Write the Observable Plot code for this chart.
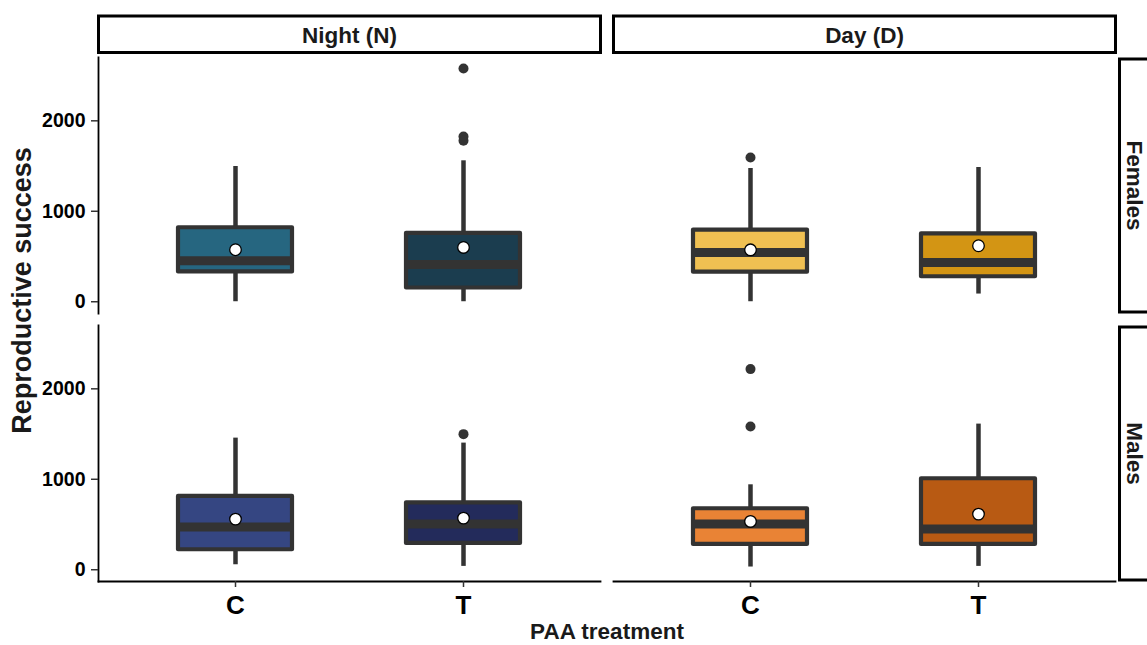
<!DOCTYPE html>
<html>
<head>
<meta charset="utf-8">
<script src="https://cdn.jsdelivr.net/npm/d3@7"></script>
<script src="https://cdn.jsdelivr.net/npm/@observablehq/plot@0.6"></script>
<style>
  html, body { margin: 0; padding: 0; background: white; }
  #chart { width: 1147px; height: 645px; overflow: hidden; }
</style>
</head>
<body>
<div id="chart"></div>
<script>
// ---- data ----
const periods = ["Night (N)", "Day (D)"];
const sexes = ["Females", "Males"];
const treatments = ["C", "T"];

const groupPeriod    = ["Night (N)", "Night (N)", "Day (D)", "Day (D)", "Night (N)", "Night (N)", "Day (D)", "Day (D)"];
const groupSex       = ["Females", "Females", "Females", "Females", "Males", "Males", "Males", "Males"];
const groupTreatment = ["C", "T", "C", "T", "C", "T", "C", "T"];
const whiskerLow  = [0,    0,    0,    85,   55,   37,   30,  37];
const q1          = [330,  152,  327,  276,  221,  291,  280, 280];
const medianValue = [452,  412,  545,  434,  472,  505,  506, 451];
const q3          = [818,  756,  792,  751,  810,  740,  674, 1006];
const whiskerHigh = [1495, 1558, 1473, 1484, 1455, 1400, 939, 1610];
const meanValue   = [575,  600,  574,  619,  560,  571,  534, 615];
const boxFill     = ["#266680", "#1b3d4f", "#f0c052", "#d39514", "#354682", "#232b5b", "#e98335", "#b85a13"];

const outlierPeriod    = ["Night (N)", "Night (N)", "Night (N)", "Day (D)", "Night (N)", "Day (D)", "Day (D)"];
const outlierSex       = ["Females", "Females", "Females", "Females", "Males", "Males", "Males"];
const outlierTreatment = ["T", "T", "T", "C", "T", "C", "C"];
const outlierValue     = [2578, 1826, 1779, 1594, 1499, 2218, 1584];

const yTicks = [0, 1000, 2000];

// ---- tables built from the arrays ----
const boxes = groupTreatment.map((t, i) => ({
  period: groupPeriod[i], sex: groupSex[i], treatment: t,
  lo: whiskerLow[i], q1: q1[i], med: medianValue[i], q3: q3[i], hi: whiskerHigh[i],
  mean: meanValue[i], color: boxFill[i]
}));
const outliers = outlierValue.map((v, i) => ({
  period: outlierPeriod[i], sex: outlierSex[i], treatment: outlierTreatment[i], value: v
}));
const topStrips = periods.map(p => ({period: p, sex: sexes[0]}));
const rightStrips = sexes.map(s => ({period: periods[periods.length - 1], sex: s}));

// ---- layout ----
const W = 1147, H = 645;
const mL = 98, mR = 31, mT = 57, mB = 63;
const fxPadIn = 0.0252, fyPadIn = 0.0447;
const fxBand = (W - mL - mR) / (2 - fxPadIn) * (1 - fxPadIn);
const fyBand = (H - mT - mB) / (2 - fyPadIn) * (1 - fyPadIn);
const dark = "#333333";
const font = "'Liberation Sans', Arial, Helvetica, sans-serif";

const chart = Plot.plot({
  width: W, height: H,
  marginLeft: mL, marginRight: mR, marginTop: mT, marginBottom: mB,
  style: {fontFamily: font, background: "white", overflow: "visible"},
  fx: {domain: periods, paddingInner: fxPadIn, paddingOuter: 0, axis: null},
  fy: {domain: sexes, paddingInner: fyPadIn, paddingOuter: 0, axis: null},
  x: {domain: treatments, paddingInner: 0.5, paddingOuter: 0.35},
  y: {domain: [-130, 2700]},
  color: {type: "identity"},
  marks: [
    // strips
    Plot.frame({facetAnchor: "top", insetTop: -41.5, insetBottom: fyBand + 4.5, stroke: "black", strokeWidth: 3}),
    Plot.text(topStrips, {fx: "period", fy: "sex", text: "period", frameAnchor: "top", dy: -22,
      textAnchor: "middle", lineAnchor: "middle", fontSize: 22.5, fontWeight: "bold", fill: "#1a1a1a"}),
    Plot.frame({facetAnchor: "right", insetLeft: fxBand + 3.5, insetRight: -45, insetTop: 1.5, insetBottom: 1.5,
      stroke: "black", strokeWidth: 3}),
    Plot.text(rightStrips, {fx: "period", fy: "sex", text: "sex", frameAnchor: "right", dx: 19, rotate: 90,
      textAnchor: "middle", lineAnchor: "middle", fontSize: 22.5, fontWeight: "bold", fill: "#1a1a1a"}),
    // axis lines
    Plot.frame({anchor: "left", facetAnchor: "left", stroke: "black", strokeWidth: 1.8}),
    Plot.frame({anchor: "bottom", facetAnchor: "bottom", stroke: "black", strokeWidth: 1.8}),
    Plot.axisY({ticks: yTicks, tickFormat: d3.format("d"), tickSize: 7, tickPadding: 6, fontSize: 19.5, fontWeight: "bold",
      stroke: dark, strokeWidth: 1.5, fill: "black", label: null}),
    Plot.axisX({tickSize: 6, tickPadding: 8, fontSize: 26, fontWeight: "bold",
      stroke: dark, strokeWidth: 1.5, fill: "black", label: null}),
    // whiskers
    Plot.ruleX(boxes, {fx: "period", fy: "sex", x: "treatment", y1: "lo", y2: "q1", stroke: dark, strokeWidth: 4.5}),
    Plot.ruleX(boxes, {fx: "period", fy: "sex", x: "treatment", y1: "q3", y2: "hi", stroke: dark, strokeWidth: 4.5}),
    // boxes
    Plot.barY(boxes, {fx: "period", fy: "sex", x: "treatment", y1: "q1", y2: "q3", fill: "color",
      stroke: dark, strokeWidth: 4.2, strokeLinejoin: "round"}),
    // medians
    Plot.tickY(boxes, {fx: "period", fy: "sex", x: "treatment", y: "med", stroke: dark, strokeWidth: 9}),
    // outliers
    Plot.dot(outliers, {fx: "period", fy: "sex", x: "treatment", y: "value", r: 5, fill: dark, stroke: "none"}),
    // means
    Plot.dot(boxes, {fx: "period", fy: "sex", x: "treatment", y: "mean", r: 5.8, fill: "white", stroke: "black", strokeWidth: 1.3}),
    // axis titles
    Plot.text(["PAA treatment"], {facet: "super", frameAnchor: "bottom", dy: 50, textAnchor: "middle", lineAnchor: "middle",
      fontSize: 22.5, fontWeight: "bold", fill: "#1a1a1a"}),
    Plot.text(["Reproductive success"], {facet: "super", frameAnchor: "left", dx: -76, dy: -29, rotate: -90,
      textAnchor: "middle", lineAnchor: "middle", fontSize: 27, fontWeight: "bold", fill: "#1a1a1a"})
  ]
});
document.getElementById("chart").appendChild(chart);
</script>
</body>
</html>
